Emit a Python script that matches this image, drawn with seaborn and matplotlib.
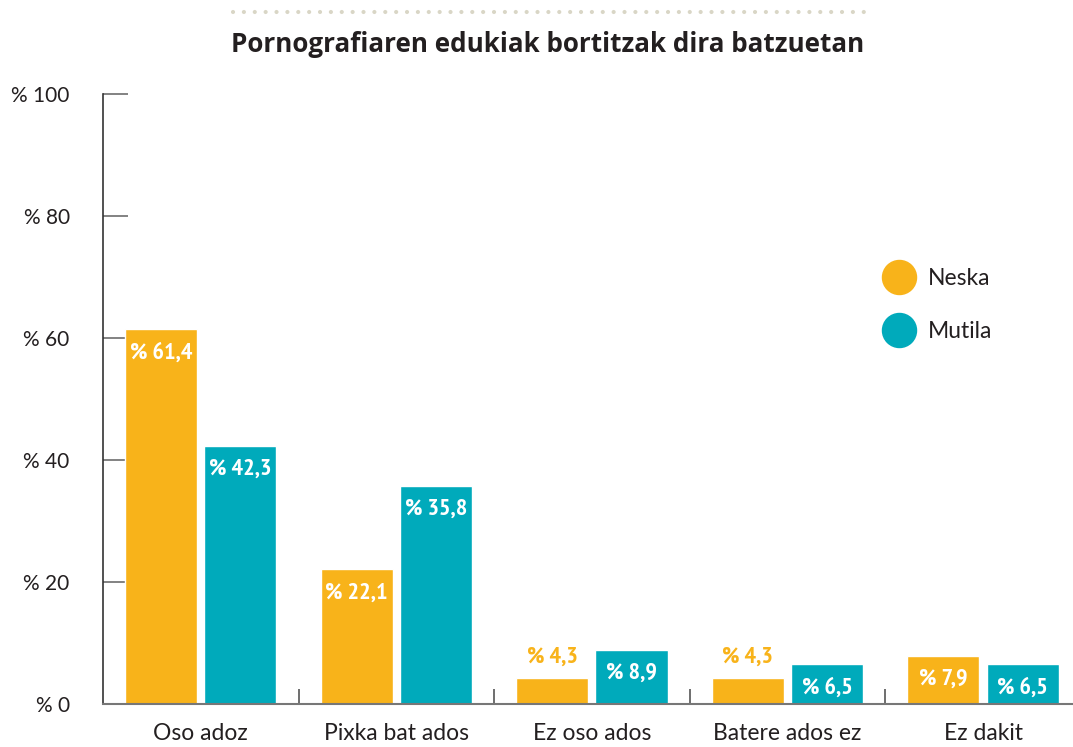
import matplotlib
matplotlib.use("Agg")
import matplotlib.pyplot as plt
from matplotlib import font_manager
from matplotlib.lines import Line2D
import pandas as pd
import seaborn as sns

# data
categories = ["Oso adoz", "Pixka bat ados", "Ez oso ados", "Batere ados ez", "Ez dakit"]
neska = [61.4, 22.1, 4.3, 4.3, 7.9]
mutila = [42.3, 35.8, 8.9, 6.5, 6.5]
groups = ["Neska", "Mutila"]
yticks = [0, 20, 40, 60, 80, 100]
title = "Pornografiaren edukiak bortitzak dira batzuetan"

orange = "#F8B31A"
teal = "#00AABB"
dark = "#231F20"

df = pd.DataFrame({
    "kategoria": categories * 2,
    "ehunekoa": neska + mutila,
    "sexua": [groups[0]] * len(categories) + [groups[1]] * len(categories),
})

# narrow font file for the value labels, if there is one
def pick_narrow():
    best, score = None, -1
    for f in font_manager.fontManager.ttflist:
        fn = f.fname.lower()
        if "italic" in fn or "oblique" in fn:
            continue
        if not ("narrow" in fn or "condensed" in fn or f.stretch in ("condensed", "semi-condensed")):
            continue
        s = 1
        if "bold" in fn and "semi" not in fn and "extra" not in fn:
            s += 2
        if "narrow" in fn:
            s += 1
        if s > score:
            best, score = f.fname, s
    return best

narrow_file = pick_narrow()
if narrow_file:
    lab_prop = font_manager.FontProperties(fname=narrow_file, size=17.5)
else:
    lab_prop = font_manager.FontProperties(family="Roboto", weight="medium", size=14)

sns.set_style("white")
plt.rcParams["font.family"] = ["Lato", "DejaVu Sans"]

fig = plt.figure(figsize=(10.73, 7.47), dpi=100)
ax = fig.add_axes([103 / 1073, 1 - 704 / 747, 1 - 103 / 1073, (704 - 94) / 747])

sns.barplot(data=df, x="kategoria", y="ehunekoa", hue="sexua",
            palette=[orange, teal], width=0.81, gap=0.09, saturation=1,
            legend=False, ax=ax)

ax.set_xlim(-0.5, 4.46)
ax.set_ylim(0, 100)
ax.set_xlabel("")
ax.set_ylabel("")

# y axis
ax.set_yticks(yticks)
ax.set_yticklabels([f"% {v}" for v in yticks], fontsize=15, color=dark)
ax.tick_params(axis="y", direction="in", length=18, width=1.2, color="#6d6d6d",
               pad=24, left=True)

# x axis: labels, small separators between groups
ax.set_xticks(range(len(categories)))
ax.set_xticklabels(categories, fontsize=16.5, color=dark)
ax.tick_params(axis="x", which="major", length=0, pad=14)
ax.set_xticks([i + 0.5 for i in range(len(categories) - 1)], minor=True)
ax.tick_params(axis="x", which="minor", direction="in", length=11, width=1.2,
               color="#555555", bottom=True)

for s in ["top", "right"]:
    ax.spines[s].set_visible(False)
ax.spines["left"].set_color("#333333")
ax.spines["left"].set_linewidth(1.2)
ax.spines["bottom"].set_color("#777777")
ax.spines["bottom"].set_linewidth(1.5)

# value labels
for cont, col in zip(ax.containers, [orange, teal]):
    for bar in cont:
        h = bar.get_height()
        x = bar.get_x() + bar.get_width() / 2
        txt = "% " + f"{h:.1f}".replace(".", ",")
        if h < 5:
            ax.annotate(txt, (x, h), xytext=(0, 15), textcoords="offset points",
                        ha="center", va="center", color=col, fontproperties=lab_prop)
        else:
            ax.annotate(txt, (x, h), xytext=(0, -17), textcoords="offset points",
                        ha="center", va="center", color="white", fontproperties=lab_prop)

# legend
handles = [Line2D([], [], marker="o", linestyle="", markersize=24.5,
                  markerfacecolor=c, markeredgecolor=c) for c in [orange, teal]]
ax.legend(handles, groups, loc="upper left", bbox_to_anchor=(0.785, 0.734),
          frameon=False, fontsize=16.5, labelcolor=dark, handletextpad=0.25,
          labelspacing=1.4, borderpad=0)

# title and dotted rule above it
fig.text(548 / 1073, 1 - 44 / 747, title, ha="center", va="center",
         fontsize=18.7, fontweight="bold", color=dark, family=["Open Sans", "DejaVu Sans"])
fig.add_artist(Line2D([233 / 1073, 865 / 1073], [1 - 12 / 747, 1 - 12 / 747],
                      transform=fig.transFigure, color="#d9d6c6", linewidth=3,
                      linestyle=(0, (0.01, 2.6)), dash_capstyle="round"))

fig.savefig("out.png", dpi=100)
